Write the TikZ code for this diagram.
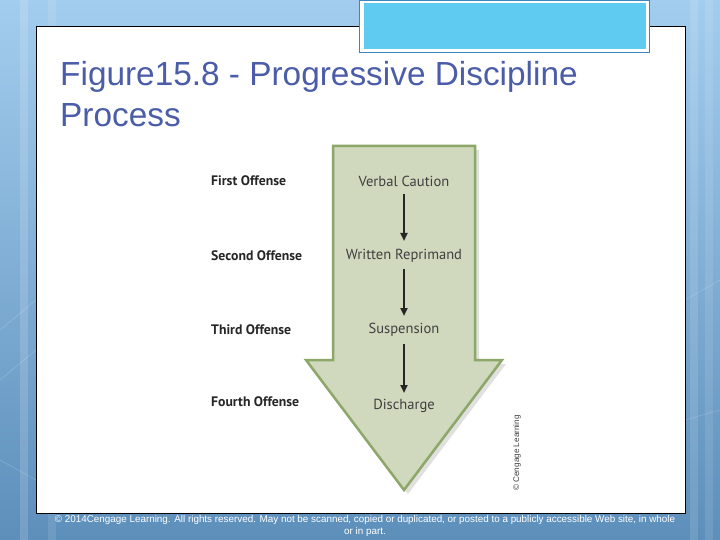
\documentclass[tikz,border=0pt]{standalone}
\usepackage{fontspec}
\setmainfont{Liberation Sans}
\newfontfamily\labelfont{PT Sans}
\usetikzlibrary{arrows.meta}
\definecolor{bgtop}{HTML}{A3CDEE}
\definecolor{bgbot}{HTML}{5D8FBB}
\definecolor{titleblue}{HTML}{4B5CA8}
\definecolor{boxcyan}{HTML}{5FCBF1}
\definecolor{boxedge}{HTML}{3B86BF}
\definecolor{arrowfill}{HTML}{D0D8BD}
\definecolor{arrowedge}{HTML}{8DA768}
\begin{document}
\begin{tikzpicture}[x=1bp,y=-1bp,
  offense/.style={font=\labelfont\bfseries\fontsize{13.8}{15}\selectfont, anchor=west, text=black!85, inner sep=0},
  stage/.style={font=\labelfont\fontsize{14.6}{16}\selectfont, text=black!75, inner sep=0},
  flow/.style={-{Triangle[length=8bp,width=7bp]}, line width=2bp, black!85}]
\useasboundingbox (0,0) rectangle (720,540);
% background
\shade[top color=bgtop, bottom color=bgbot] (0,0) rectangle (720,540);
\foreach \x/\o in {20/0.15,48/0.1,690/0.12,705/0.1}{\fill[white,opacity=\o] (\x,0) rectangle ++(8,540);}
\draw[white,opacity=0.25] (0,330) -- (36,300) (0,380) -- (36,350) (0,460) -- (36,480) (685,300) -- (720,280) (685,420) -- (720,410);
% white panel
\node[draw=black, line width=0.8bp, fill=white, minimum width=649bp, minimum height=487bp, inner sep=0, anchor=north west] (panel) at (36,26) {};
% top cyan box
\node[draw=boxedge, line width=1bp, fill=white, minimum width=290bp, minimum height=52bp, inner sep=0, anchor=north west] (topbox) at (359,0) {};
\node[fill=boxcyan, minimum width=282bp, minimum height=46bp, inner sep=0] (topin) at (topbox.center) {};
% title
\node[anchor=north west, align=left, text=titleblue, font=\fontsize{33.5}{41}\selectfont, inner sep=0] (title) at (60,61) {Figure15.8 - Progressive Discipline\\Process};
% big arrow
\fill[black,opacity=0.12] (337,150) -- (479,150) -- (479,364) -- (506,364) -- (408,494) -- (310,364) -- (337,364) -- cycle;
\draw[fill=arrowfill, draw=arrowedge, line width=2.5bp, line join=miter] (333,146) -- (475,146) -- (475,360) -- (502,360) -- (404,490) -- (306,360) -- (333,360) -- cycle;
% stages
\node[stage] (s1) at (404,181) {Verbal Caution};
\node[stage] (s2) at (404,256) {Written Reprimand};
\node[stage] (s3) at (404,330) {Suspension};
\node[stage] (s4) at (404,406) {Discharge};
\coordinate (a1) at (404,194); \coordinate (b1) at (404,241);
\coordinate (a2) at (404,269); \coordinate (b2) at (404,316);
\coordinate (a3) at (404,344); \coordinate (b3) at (404,393);
\draw[flow] (a1) -- (b1);
\draw[flow] (a2) -- (b2);
\draw[flow] (a3) -- (b3);
% offenses
\node[offense] (o1) at (211,181) {First Offense};
\node[offense] (o2) at (211,256) {Second Offense};
\node[offense] (o3) at (211,330) {Third Offense};
\node[offense] (o4) at (211,402) {Fourth Offense};
% credit
\node[rotate=90, font=\fontsize{8.2}{9}\selectfont, text=black!75] (credit) at (517,453) {© Cengage Learning};
% footer
\node[align=center, text=white, font=\fontsize{9.9}{12}\selectfont] (footer) at (365,526) {© 2014Cengage Learning. All rights reserved. May not be scanned, copied or duplicated, or posted to a publicly accessible Web site, in whole\\or in part.};
\end{tikzpicture}
\end{document}
